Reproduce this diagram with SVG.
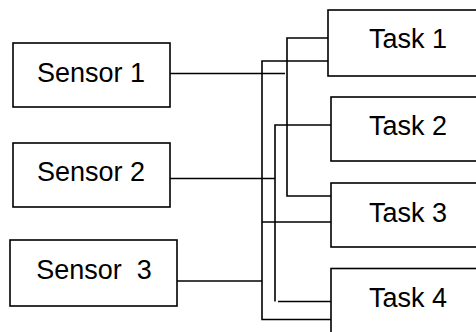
<svg xmlns="http://www.w3.org/2000/svg" width="476" height="332" viewBox="0 0 476 332">
  <style>
    .box { fill: #fff; stroke: #000; stroke-width: 1.6; }
    .lbl { font-family: "Liberation Sans", Arial, sans-serif; font-size: 27px; fill: #000; text-anchor: middle; }
    .wire { fill: none; stroke: #000; stroke-width: 1.6; }
  </style>
  <rect width="476" height="332" fill="#fff"/>

  <!-- wiring between sensors and tasks -->
  <g id="connectors">
    <!-- bus at x=287: Task 1 (top), Sensor 1, Task 3 (top) -->
    <path class="wire" d="M328 38 H287 V196 H331"/>
    <path class="wire" d="M170 73.5 H285"/>
    <!-- bus at x=275: Task 2, Sensor 2, Task 4 (top) -->
    <path class="wire" d="M331 125 H275 V301.5"/>
    <path class="wire" d="M278 301.5 H331"/>
    <path class="wire" d="M170 178.5 H275"/>
    <!-- bus at x=262: Task 1 (bottom), Task 3 (bottom), Sensor 3, Task 4 (bottom) -->
    <path class="wire" d="M328 61 H262 V319.5 H331"/>
    <path class="wire" d="M262 222 H331"/>
    <path class="wire" d="M177 281 H262"/>
  </g>

  <g id="sensor1">
    <rect class="box" x="13" y="43" width="157" height="64"/>
    <text class="lbl" x="91" y="82">Sensor 1</text>
  </g>
  <g id="sensor2">
    <rect class="box" x="13" y="143" width="157" height="64"/>
    <text class="lbl" x="91" y="181">Sensor 2</text>
  </g>
  <g id="sensor3">
    <rect class="box" x="10" y="240" width="167" height="66"/>
    <text class="lbl" x="94" y="278.5" xml:space="preserve">Sensor  3</text>
  </g>

  <g id="task1">
    <rect class="box" x="328" y="10" width="160" height="66"/>
    <text class="lbl" x="408" y="48">Task 1</text>
  </g>
  <g id="task2">
    <rect class="box" x="331" y="97" width="160" height="64"/>
    <text class="lbl" x="408" y="135">Task 2</text>
  </g>
  <g id="task3">
    <rect class="box" x="331" y="183" width="160" height="64"/>
    <text class="lbl" x="408" y="221.5">Task 3</text>
  </g>
  <g id="task4">
    <rect class="box" x="331" y="268.5" width="160" height="70"/>
    <text class="lbl" x="408" y="306.5">Task 4</text>
  </g>
</svg>
